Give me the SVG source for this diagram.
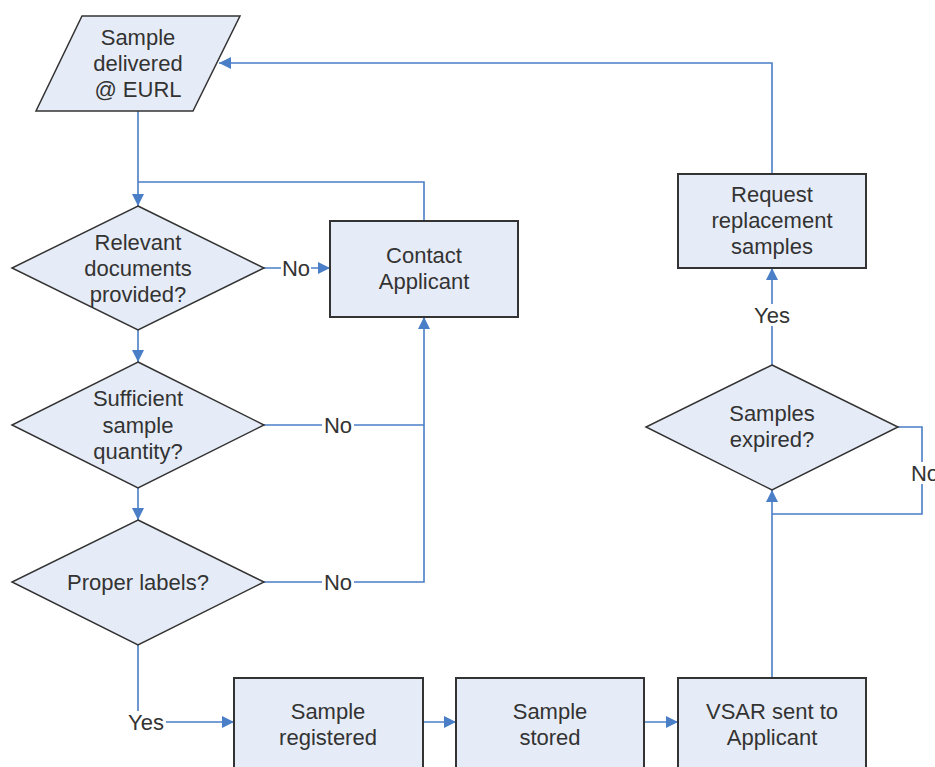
<svg xmlns="http://www.w3.org/2000/svg" width="935" height="767" viewBox="0 0 935 767">
<style>
.shape{fill:#E6ECF7;stroke:#333;stroke-width:1.5}
.box{fill:#E6ECF7;stroke:#333;stroke-width:2}
.t{font-family:"Liberation Sans",Arial,sans-serif;font-size:22px;fill:#333;text-anchor:middle}
.c{fill:none;stroke:#4A7EC7;stroke-width:1.6}
.lb{fill:#fff}
</style>
<defs>
<marker id="a" markerUnits="userSpaceOnUse" markerWidth="12" markerHeight="12" viewBox="0 0 12 12" refX="12" refY="6" orient="auto">
<path d="M0,0 L12,6 L0,12 Z" fill="#4A7EC7"/>
</marker>
</defs>
<rect width="935" height="767" fill="#fff"/>
<g id="connectors">
<path class="c" d="M138,111 V206" marker-end="url(#a)"/>
<path class="c" d="M424,221 V182 H138"/>
<path class="c" d="M264,268 H330" marker-end="url(#a)"/>
<path class="c" d="M138,330 V362" marker-end="url(#a)"/>
<path class="c" d="M264,425 H424"/>
<path class="c" d="M264,582 H424 V317" marker-end="url(#a)"/>
<path class="c" d="M138,488 V520" marker-end="url(#a)"/>
<path class="c" d="M138,645 V722 H234" marker-end="url(#a)"/>
<path class="c" d="M423,722 H456" marker-end="url(#a)"/>
<path class="c" d="M644,722 H678" marker-end="url(#a)"/>
<path class="c" d="M772,678 V490" marker-end="url(#a)"/>
<path class="c" d="M898,427 H922 V514 H772"/>
<path class="c" d="M772,365 V268" marker-end="url(#a)"/>
<path class="c" d="M772,174 V63 H219" marker-end="url(#a)"/>
<rect class="lb" x="281" y="257" width="30" height="22"/>
<text class="t" x="296" y="276">No</text>
<rect class="lb" x="322" y="414" width="32" height="22"/>
<text class="t" x="338" y="433">No</text>
<rect class="lb" x="322" y="571" width="32" height="22"/>
<text class="t" x="338" y="590">No</text>
<rect class="lb" x="126" y="711" width="40" height="22"/>
<text class="t" x="146" y="730">Yes</text>
<rect class="lb" x="751" y="304" width="42" height="22"/>
<text class="t" x="772" y="323">Yes</text>
<rect class="lb" x="908" y="462" width="34" height="22"/>
<text class="t" x="925" y="481">No</text>
</g>
<g id="n_delivered">
<polygon class="shape" points="82,16 240,16 193,111 36,111"/>
<text class="t" x="138" y="45">Sample</text>
<text class="t" x="138" y="71">delivered</text>
<text class="t" x="138" y="97">@ EURL</text>
</g>
<g id="n_documents">
<polygon class="shape" points="138,206 264,268 138,330 12,268"/>
<text class="t" x="138" y="250">Relevant</text>
<text class="t" x="138" y="276">documents</text>
<text class="t" x="138" y="302">provided?</text>
</g>
<g id="n_contact">
<rect class="box" x="330" y="221" width="188" height="96"/>
<text class="t" x="424" y="263">Contact</text>
<text class="t" x="424" y="289">Applicant</text>
</g>
<g id="n_quantity">
<polygon class="shape" points="138,362 264,425 138,488 12,425"/>
<text class="t" x="138" y="406">Sufficient</text>
<text class="t" x="138" y="433">sample</text>
<text class="t" x="138" y="459">quantity?</text>
</g>
<g id="n_labels">
<polygon class="shape" points="138,520 264,582 138,645 12,582"/>
<text class="t" x="138" y="590">Proper labels?</text>
</g>
<g id="n_registered">
<rect class="box" x="234" y="678" width="189" height="100"/>
<text class="t" x="328" y="719">Sample</text>
<text class="t" x="328" y="745">registered</text>
</g>
<g id="n_stored">
<rect class="box" x="456" y="678" width="188" height="100"/>
<text class="t" x="550" y="719">Sample</text>
<text class="t" x="550" y="745">stored</text>
</g>
<g id="n_vsar">
<rect class="box" x="678" y="678" width="188" height="100"/>
<text class="t" x="772" y="719">VSAR sent to</text>
<text class="t" x="772" y="745">Applicant</text>
</g>
<g id="n_expired">
<polygon class="shape" points="772,365 898,427 772,490 646,427"/>
<text class="t" x="772" y="421">Samples</text>
<text class="t" x="772" y="447">expired?</text>
</g>
<g id="n_request">
<rect class="box" x="678" y="174" width="188" height="94"/>
<text class="t" x="772" y="202">Request</text>
<text class="t" x="772" y="228">replacement</text>
<text class="t" x="772" y="254">samples</text>
</g>
</svg>
